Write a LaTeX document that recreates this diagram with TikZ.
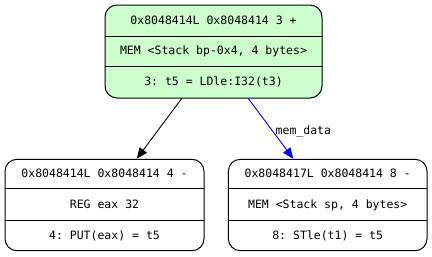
\documentclass[tikz,border=0pt]{standalone}
\usepackage{fontspec}
\setmonofont{DejaVu Sans Mono}
\usetikzlibrary{arrows.meta,calc}
\definecolor{blockgreen}{RGB}{204,255,204}
\tikzset{
  block/.style={draw, line width=1pt, rounded corners=12pt, inner sep=0pt},
  rowtext/.style={font=\fontsize{11.5}{13}\selectfont\ttfamily, inner sep=0pt, anchor=base},
  divider/.style={line width=1pt},
  edge/.style={line width=0.9pt, -{Triangle[length=11pt,width=9pt]}},
}
\begin{document}
\begin{tikzpicture}[x=1pt,y=-1pt]
  \useasboundingbox (0,0) rectangle (432,257);

  % source block
  \node[block, fill=blockgreen, minimum width=217pt, minimum height=93pt] (top) at (213.5,51.5) {};
  \draw[divider] ($(top.north west)+(0,31.5)$) -- ($(top.north east)+(0,31.5)$);
  \draw[divider] ($(top.north west)+(0,61.5)$) -- ($(top.north east)+(0,61.5)$);
  \node[rowtext] (top1) at ($(top.north)+(0,20)$) {0x8048414L 0x8048414 3 +};
  \node[rowtext] (top2) at ($(top.north)+(0,50.5)$) {MEM <Stack bp-0x4, 4 bytes>};
  \node[rowtext] (top3) at ($(top.north)+(0,81)$) {3: t5 = LDle:I32(t3)};

  % register sink block
  \node[block, minimum width=199pt, minimum height=91.4pt] (left) at (104.5,205) {};
  \draw[divider] ($(left.north west)+(0,30)$) -- ($(left.north west)+(199,30)$);
  \draw[divider] ($(left.north west)+(0,61.4)$) -- ($(left.north west)+(199,61.4)$);
  \node[rowtext] (left1) at ($(left.north)+(0,18.5)$) {0x8048414L 0x8048414 4 -};
  \node[rowtext] (left2) at ($(left.north)+(0,50)$) {REG eax 32};
  \node[rowtext] (left3) at ($(left.north)+(0,80.5)$) {4: PUT(eax) = t5};

  % memory sink block
  \node[block, minimum width=198.7pt, minimum height=91.4pt] (right) at (327.7,205) {};
  \draw[divider] ($(right.north west)+(0,30)$) -- ($(right.north west)+(198.7,30)$);
  \draw[divider] ($(right.north west)+(0,61.4)$) -- ($(right.north west)+(198.7,61.4)$);
  \node[rowtext] (right1) at ($(right.north)+(0,18.5)$) {0x8048417L 0x8048414 8 -};
  \node[rowtext] (right2) at ($(right.north)+(0,50)$) {MEM <Stack sp, 4 bytes>};
  \node[rowtext] (right3) at ($(right.north)+(0,80.5)$) {8: STle(t1) = t5};

  % dependency edges
  \draw[edge] ($(top.south)+(-31.8,0)$) -- ($(left.north)+(32.2,0)$);
  \draw[edge, blue] ($(top.south)+(34.8,0)$) -- ($(right.north)+(-34.4,0)$);
  \node[rowtext, anchor=west] (lbl) at (275.5,131) {mem\_data};
\end{tikzpicture}
\end{document}
